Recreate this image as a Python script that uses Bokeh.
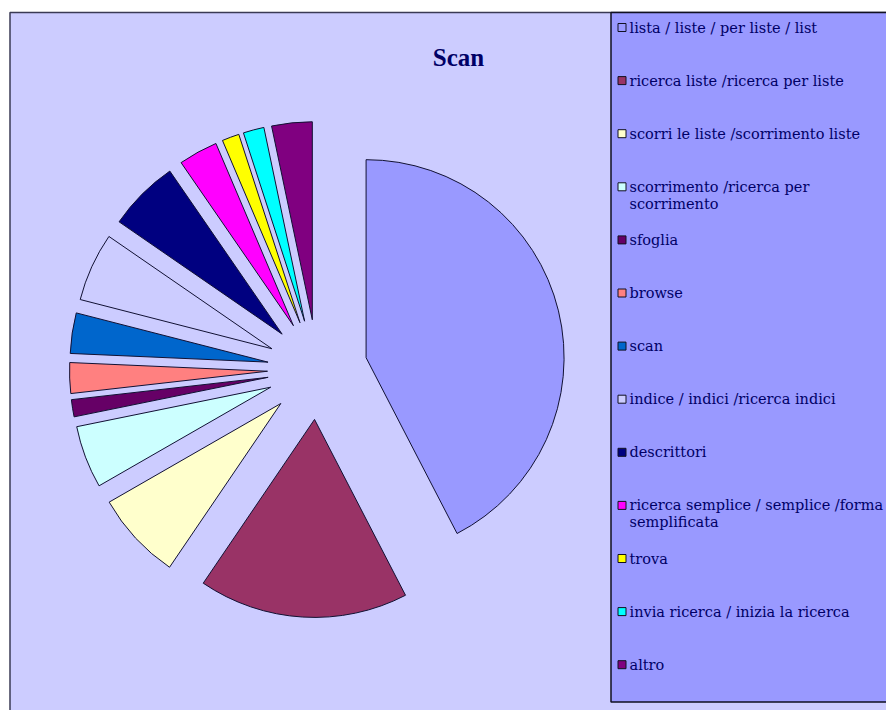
import math
from bokeh.plotting import figure
from bokeh.models import Range1d
from bokeh.core.properties import value
from bokeh.embed import file_html
from bokeh.resources import INLINE

# ---- data ----
title = "Scan"
labels = [
    "lista / liste / per liste / list",
    "ricerca liste /ricerca per liste",
    "scorri le liste /scorrimento liste",
    "scorrimento /ricerca per\nscorrimento",
    "sfoglia",
    "browse",
    "scan",
    "indice / indici /ricerca indici",
    "descrittori",
    "ricerca semplice / semplice /forma\nsemplificata",
    "trova",
    "invia ricerca / inizia la ricerca",
    "altro",
]
values = [42.4, 17.1, 7.2, 5.1, 1.4, 2.5, 3.3, 5.6, 5.8, 3.2, 1.4, 1.7, 3.3]
colors = ["#9999FF", "#993366", "#FFFFCC", "#CCFFFF", "#660066", "#FF8080",
          "#0066CC", "#CCCCFF", "#000080", "#FF00FF", "#FFFF00", "#00FFFF", "#800080"]

W, H = 886, 710
p = figure(width=W, height=H, output_backend="svg", toolbar_location=None,
           x_range=Range1d(0, W), y_range=Range1d(0, H),
           x_axis_location=None, y_axis_location=None, min_border=0,
           background_fill_color="white", border_fill_color="white")
p.outline_line_color = None
p.xgrid.visible = False
p.ygrid.visible = False

def sy(y):  # picture y -> data y
    return H - y

def sx(x):
    return x

# chart area
p.quad(left=sx(9.5), right=W + 20, top=sy(12), bottom=-20,
       fill_color="#CCCCFF", line_color="#3a3a55", line_width=1.5)

# pie
cx, cy = sx(317), sy(369)
R = 198
d = 50
total = sum(values)
xs, ys, starts, ends = [], [], [], []
cum = 0.0
for v in values:
    a = cum / total * 2 * math.pi
    b = (cum + v) / total * 2 * math.pi
    bis = (a + b) / 2
    xs.append(cx + d * math.sin(bis))
    ys.append(cy + d * math.cos(bis))
    starts.append(math.pi / 2 - b)
    ends.append(math.pi / 2 - a)
    cum += v
p.wedge(x=xs, y=ys, radius=R, radius_units="screen", start_angle=starts,
        end_angle=ends, direction="anticlock", fill_color=colors,
        line_color="#111133", line_width=1)

# title
p.text(x=[sx(458)], y=[sy(57)], text=[title], text_font=value("Liberation Serif"),
       text_font_style="bold", text_font_size="25px", text_color="#000066",
       text_align="center", text_baseline="alphabetic")

# legend
p.quad(left=sx(610.5), right=W + 20, top=sy(12), bottom=sy(701.5),
       fill_color="#9999FF", line_color="#111122", line_width=1.5)
y0, step, lstep = 27, 53.1, 17
sw_x, sw_y, tx, ty, tt = [], [], [], [], []
for i, lab in enumerate(labels):
    yc = y0 + i * step
    sw_x.append(sx(621.5))
    sw_y.append(sy(yc))
    for j, line in enumerate(lab.split("\n")):
        tx.append(sx(629))
        ty.append(sy(yc + j * lstep))
        tt.append(line)
p.rect(x=sw_x, y=sw_y, width=8, height=8, width_units="screen", height_units="screen",
       fill_color=colors, line_color="#111122", line_width=1)
p.text(x=tx, y=ty, text=tt, text_font=value("DejaVu Serif"), text_font_size="14.5px",
       text_color="#000066", text_align="left", text_baseline="middle")

open("out.html", "w").write(file_html(p, INLINE))
